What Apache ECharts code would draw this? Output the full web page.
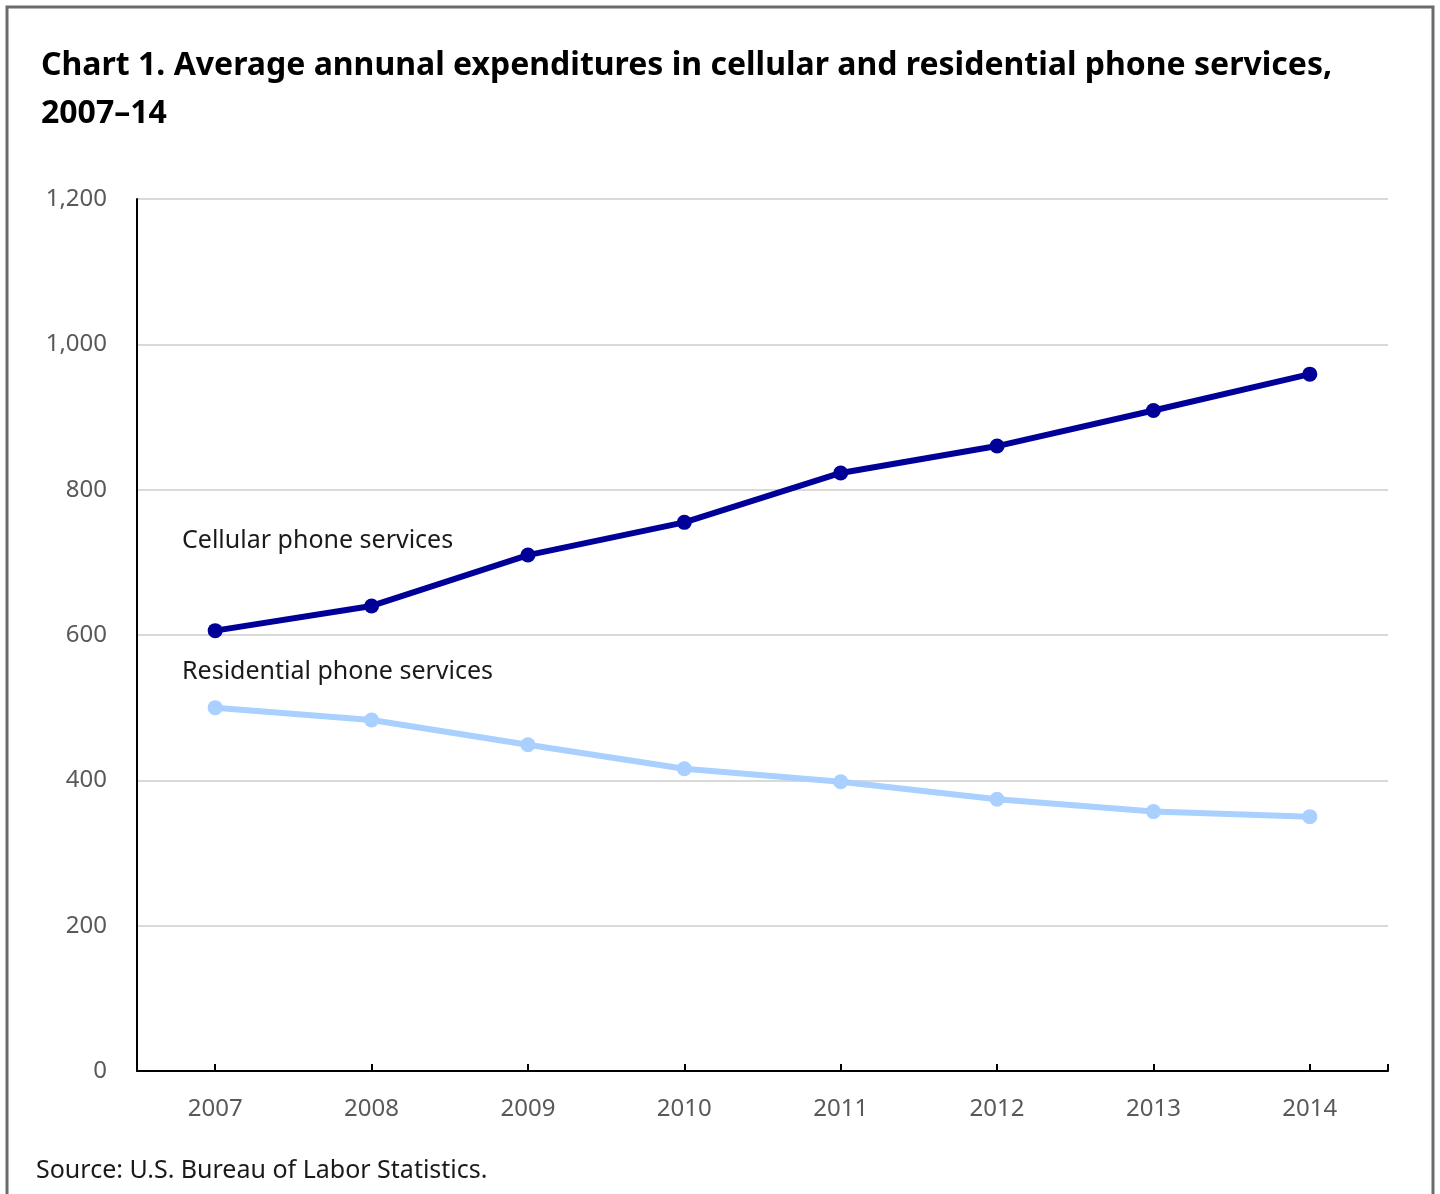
<!DOCTYPE html>
<html>
<head>
<meta charset="utf-8">
<script src="https://cdn.jsdelivr.net/npm/echarts@6/dist/echarts.min.js"></script>
<style>
html,body{margin:0;padding:0;background:#fff;}
#chart{width:1440px;height:1194px;}
</style>
</head>
<body>
<div id="chart"></div>
<script>
const years = ['2007','2008','2009','2010','2011','2012','2013','2014'];
const cellular = [606, 640, 710, 755, 823, 860, 909, 959];
const residential = [500, 483, 449, 416, 398, 374, 357, 350];
const yTicks = [0, 200, 400, 600, 800, 1000, 1200];
const titleText = 'Chart 1. Average annunal expenditures in cellular and residential phone services,\n2007\u201314';
const sourceText = 'Source: U.S. Bureau of Labor Statistics.';
const cellLabel = 'Cellular phone services';
const resLabel = 'Residential phone services';

const chart = echarts.init(document.getElementById('chart'));
const font = '"Noto Sans", "Open Sans", sans-serif';
chart.setOption({
  animation: false,
  backgroundColor: '#ffffff',
  title: {
    text: titleText,
    left: 36, top: 37,
    textStyle: { fontFamily: font, fontWeight: 'bold', fontSize: 32, color: '#000', lineHeight: 48 }
  },
  grid: { left: 137, right: 52, top: 199, bottom: 123, containLabel: false },
  xAxis: {
    type: 'category',
    data: years,
    boundaryGap: true,
    axisLine: { show: true, lineStyle: { color: '#000', width: 2 } },
    axisTick: { show: true, alignWithLabel: true, inside: true, length: 7, lineStyle: { color: '#000', width: 2 } },
    axisLabel: { color: '#595959', fontSize: 24, fontFamily: font, margin: 26 },
    splitLine: { show: false }
  },
  yAxis: {
    type: 'value',
    min: yTicks[0], max: yTicks[yTicks.length - 1], interval: 200,
    axisLine: { show: true, lineStyle: { color: '#000', width: 2 } },
    axisTick: { show: false },
    axisLabel: {
      color: '#595959', fontSize: 24, fontFamily: font, margin: 30,
      formatter: v => v.toLocaleString('en-US')
    },
    splitLine: { show: true, lineStyle: { color: '#d9d9d9', width: 2 } }
  },
  series: [
    {
      name: cellLabel, type: 'line', data: cellular,
      symbol: 'circle', symbolSize: 15,
      lineStyle: { color: '#000099', width: 6 },
      itemStyle: { color: '#000099' },
      z: 3
    },
    {
      name: resLabel, type: 'line', data: residential,
      symbol: 'circle', symbolSize: 15,
      lineStyle: { color: '#a9d0ff', width: 6 },
      itemStyle: { color: '#a9d0ff' },
      z: 2
    }
  ],
  graphic: [
    { type: 'rect', shape: { x: 7, y: 7, width: 1426, height: 1200 }, style: { fill: 'none', stroke: '#6b6b6b', lineWidth: 3 }, silent: true },
    { type: 'line', shape: { x1: 1388, y1: 1071, x2: 1388, y2: 1064 }, style: { stroke: '#000', lineWidth: 2 }, silent: true },
    { type: 'text', x: 182, y: 541, style: { text: cellLabel, font: '25px ' + font, fill: '#1a1a1a', verticalAlign: 'middle', textVerticalAlign: 'middle' } },
    { type: 'text', x: 182, y: 672, style: { text: resLabel, font: '25px ' + font, fill: '#1a1a1a', verticalAlign: 'middle', textVerticalAlign: 'middle' } },
    { type: 'text', x: 36, y: 1171, style: { text: sourceText, font: '25px ' + font, fill: '#1a1a1a', verticalAlign: 'middle', textVerticalAlign: 'middle' } }
  ]
});
</script>
</body>
</html>
